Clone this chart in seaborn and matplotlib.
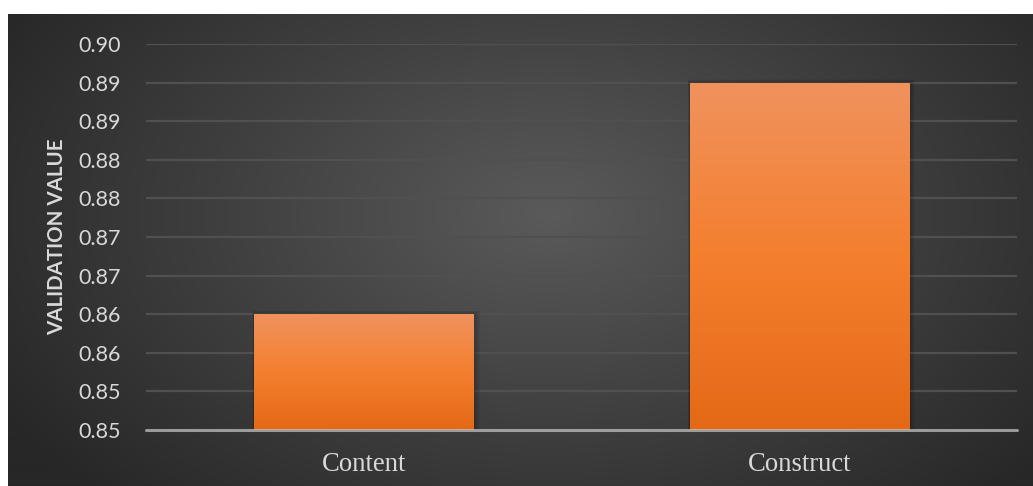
import numpy as np
import matplotlib
matplotlib.use('Agg')
import matplotlib.pyplot as plt
import seaborn as sns
from matplotlib.colors import LinearSegmentedColormap
from matplotlib.ticker import FixedLocator, FixedFormatter
from matplotlib.patches import Rectangle

# data
categories = ['Content', 'Construct']
values = [0.865, 0.895]
y_ticks = [0.850, 0.855, 0.860, 0.865, 0.870, 0.875, 0.880, 0.885, 0.890, 0.895, 0.900]
y_tick_labels = ['0.85', '0.85', '0.86', '0.86', '0.87', '0.87', '0.88', '0.88', '0.89', '0.89', '0.90']

sns.set_style('white')
plt.rcParams['font.family'] = ['Lato', 'DejaVu Sans']

fig = plt.figure(figsize=(10.33, 4.86), dpi=100, facecolor='white')

# dark radial background panel
bg = fig.add_axes([8 / 1033, 0, 1 - 8 / 1033, 1 - 14 / 486])
bg.set_axis_off()
h, w = 472, 1025
yy, xx = np.mgrid[0:h, 0:w]
r = np.sqrt(((xx - 540) / 640.0) ** 2 + ((yy - 200) / 400.0) ** 2)
r = np.clip(r, 0, 1)
bg_cmap = LinearSegmentedColormap.from_list('bg', ['#5a5a5a', '#404040', '#272727'])
bg.imshow(r, cmap=bg_cmap, aspect='auto', extent=[0, 1, 0, 1], origin='upper')
bg.set_xlim(0, 1)
bg.set_ylim(0, 1)

ax = fig.add_axes([146 / 1033, 1 - 430 / 486, (1017 - 146) / 1033, (430 - 44) / 486])
ax.set_facecolor('none')

sns.barplot(x=categories, y=values, ax=ax, width=0.503, color='#F47F30', saturation=1)

ax.set_ylim(0.85, 0.90)
ax.set_xlim(-0.5, 1.5)
ax.yaxis.set_major_locator(FixedLocator(y_ticks))
ax.yaxis.set_major_formatter(FixedFormatter(y_tick_labels))

# gridlines
for t in y_ticks[1:]:
    ax.axhline(t, color='#505050', lw=1.6, zorder=0)

# gradient fill + soft shadow for bars
bar_cmap = LinearSegmentedColormap.from_list('bar', ['#E46917', '#F47F2E', '#F0925E'])
grad = np.linspace(0, 1, 256).reshape(-1, 1)
for p in list(ax.patches):
    x0 = p.get_x()
    bw = p.get_width()
    top = p.get_height()
    for k in range(1, 7):
        dx = 0.0025 * k
        dy = 0.00035 * k
        ax.add_patch(Rectangle((x0 - dx * 0.3, 0.85), bw + dx * 1.3, top - 0.85 + dy * 0.2,
                               facecolor='black', alpha=0.045, lw=0, zorder=1))
    p.set_facecolor('none')
    p.set_edgecolor('none')
    im = ax.imshow(grad, cmap=bar_cmap, aspect='auto', origin='lower',
                   extent=[x0, x0 + bw, 0.85, top], zorder=2)
    im.set_clip_path(p)
    p.set_zorder(2)

ax.set_xlim(-0.5, 1.5)
ax.set_ylim(0.85, 0.90)

# bottom axis line
ax.axhline(0.85, color='#bfbfbf', lw=2.2, alpha=0.75, zorder=3, clip_on=False)

for s in ax.spines.values():
    s.set_visible(False)

ax.tick_params(axis='y', length=0, pad=18, labelsize=15.5, labelcolor='#d9d9d9')
ax.tick_params(axis='x', length=0, pad=16, labelsize=19.2, labelcolor='#d9d9d9')
for lab in ax.get_xticklabels():
    lab.set_fontfamily('Liberation Serif')

ax.set_xlabel('')
ax.set_ylabel('VALIDATION VALUE', fontsize=14.8, fontweight='bold', color='#d9d9d9', labelpad=8)

fig.savefig('out.png', dpi=100, facecolor='white')
